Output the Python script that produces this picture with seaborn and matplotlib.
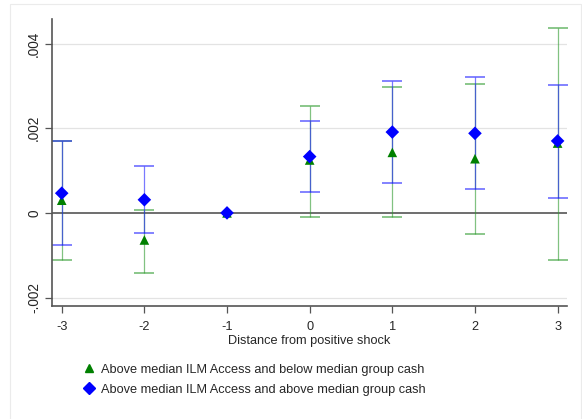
import matplotlib
matplotlib.use("Agg")
import matplotlib.pyplot as plt
import seaborn as sns
import pandas as pd
import numpy as np
from matplotlib.lines import Line2D
from matplotlib.patches import Rectangle

# Data
periods = [-3, -2, -1, 0, 1, 2, 3]
below_label = "Above median ILM Access and below median group cash"
above_label = "Above median ILM Access and above median group cash"
below_coef = [0.00030, -0.00064, 0.0, 0.00125, 0.00143, 0.00128, 0.00165]
below_lo = [-0.00111, -0.00142, 0.0, -0.00010, -0.00010, -0.00050, -0.00111]
below_hi = [0.00171, 0.00008, 0.0, 0.00253, 0.00298, 0.00304, 0.00437]
above_coef = [0.000465, 0.00031, 0.0, 0.00133, 0.00191, 0.00188, 0.00170]
above_lo = [-0.00075, -0.00048, 0.0, 0.00050, 0.00071, 0.00057, 0.00036]
above_hi = [0.00169, 0.00111, 0.0, 0.00217, 0.00312, 0.00320, 0.00302]
yticks = [-0.002, 0, 0.002, 0.004]
ytick_labels = ["-.002", "0", ".002", ".004"]
xlabel = "Distance from positive shock"

sns.set_style("white")
plt.rcParams['font.family'] = ['Liberation Sans', 'DejaVu Sans']

GREEN = "#008000"
BLUE = "#0000ff"
FS = 9.2

fig = plt.figure(figsize=(5.82, 4.19), dpi=100)
fig.patch.set_facecolor("white")
fig.patches.append(Rectangle((10/582, -0.1), (581-10)/582, 1.1 - 4/419,
                             transform=fig.transFigure, fill=False,
                             edgecolor="#ebebeb", linewidth=0.8))
ax = fig.add_axes([52.3/582, 1 - 306/419, (566.7 - 52.3)/582, (306 - 19.3)/419])

df = pd.DataFrame({
    "period": periods * 2,
    "coef": below_coef + above_coef,
    "lo": below_lo + above_lo,
    "hi": below_hi + above_hi,
    "group": [below_label] * len(periods) + [above_label] * len(periods),
})

# grid lines
for yv in yticks:
    if yv != 0:
        ax.axhline(yv, color="#e3e3e3", lw=0.9, zorder=0)
ax.axhline(0, color="#555555", lw=1.2, zorder=1)

# CIs
for lab, col in [(below_label, "#2e9a2e"), (above_label, "#2020ff")]:
    sub = df[df["group"] == lab]
    sub = sub[sub["period"] != -1]
    ax.errorbar(sub["period"], sub["coef"],
                yerr=[sub["coef"] - sub["lo"], sub["hi"] - sub["coef"]],
                fmt="none", ecolor=col, elinewidth=0.9, capsize=7.2,
                capthick=1.3, alpha=0.6, zorder=2)

sns.scatterplot(data=df, x="period", y="coef", hue="group", style="group",
                markers={below_label: "^", above_label: "D"},
                palette={below_label: GREEN, above_label: BLUE},
                s=48, edgecolor="none", linewidth=0, legend=False, ax=ax, zorder=3)

ax.set_xlim(-3.114, 3.11)
ax.set_ylim(-0.0022, 0.004574)
ax.set_xticks(periods)
ax.set_xticklabels([str(p) for p in periods], fontsize=FS)
ax.set_yticks(yticks)
ax.set_yticklabels(ytick_labels, rotation=90, va="center", fontsize=FS + 0.6)
ax.set_xlabel(xlabel, fontsize=FS, labelpad=1.5)
ax.set_ylabel("")
ax.tick_params(axis="x", pad=6)
ax.tick_params(axis="y", pad=3)
ax.tick_params(axis="both", direction="out", length=5, width=0.9, color="#555555",
               left=True, bottom=True)
for s in ["top", "right"]:
    ax.spines[s].set_visible(False)
for s in ["left", "bottom"]:
    ax.spines[s].set_color("#555555")
    ax.spines[s].set_linewidth(1.2)

handles = [Line2D([], [], marker="^", color=GREEN, linestyle="none", markersize=6.2),
           Line2D([], [], marker="D", color=BLUE, linestyle="none", markersize=6.2)]
fig.legend(handles, [below_label, above_label], loc="upper left",
           bbox_to_anchor=(75/582, 1 - 357.5/419), frameon=False, fontsize=FS,
           handletextpad=0.3, labelspacing=0.62, handlelength=1.2, borderpad=0)

fig.savefig("out.png", dpi=100, facecolor="white")
